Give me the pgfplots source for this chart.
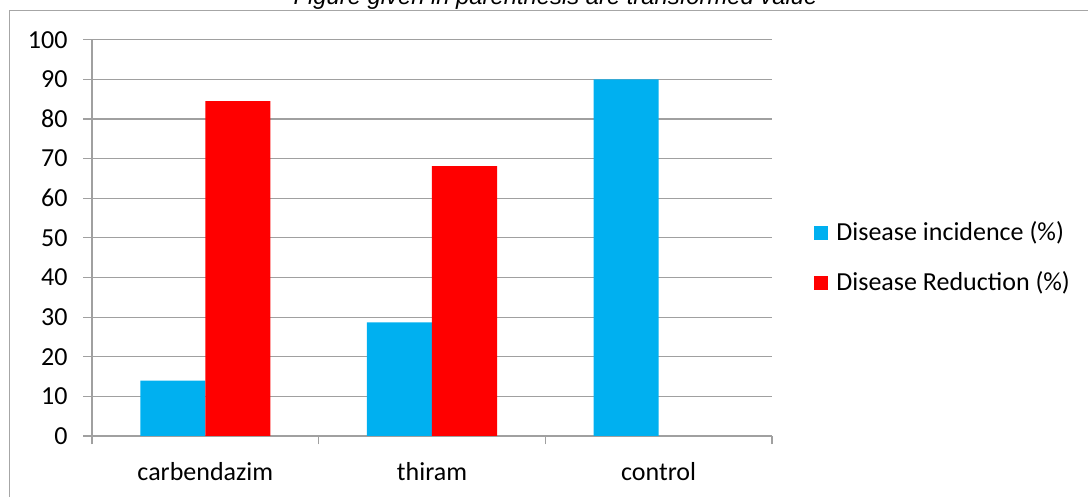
\documentclass[border=0pt]{standalone}
\usepackage{pgfplots}
\pgfplotsset{compat=1.18}
\usepackage{fontspec}
\setmainfont{Carlito}
\newfontfamily\titlefont{Liberation Sans}
\definecolor{incid}{HTML}{00B0F0}
\definecolor{reduc}{HTML}{FF0000}
\definecolor{gridc}{HTML}{A0A0A0}
\definecolor{framec}{HTML}{A6A6A6}
\begin{document}
\fontsize{13}{15.6}\selectfont
\begin{tikzpicture}
\useasboundingbox (-46pt,-30.5pt) rectangle (498pt,218pt);
\begin{scope}
\clip (-46pt,-30.5pt) rectangle (498pt,218pt);
\draw[framec, line width=0.6pt] (-41.25pt,-50pt) -- (-41.25pt,212.65pt) -- (520pt,212.65pt);
\node[anchor=base, inner sep=0pt, font=\titlefont\itshape\fontsize{11.9}{14}\selectfont] at (231.75pt,215.5pt) {Figure given in parenthesis are transformed value};
\end{scope}
\begin{axis}[
  scale only axis, width=340pt, height=198.15pt,
  xmin=-0.5, xmax=2.5, ymin=0, ymax=100,
  ytick={0,10,...,100},
  xtick={-0.5,0.5,1.5,2.5}, xticklabels={,,,},
  extra x ticks={0,1,2},
  extra x tick labels={carbendazim,thiram,control},
  extra x tick style={major tick length=0pt, grid=none, tick label style={anchor=base, yshift=-22.5pt}},
  axis x line*=bottom, axis y line*=left,
  axis line style={gridc, line width=0.6pt, -},
  tick align=outside, major tick length=4.25pt,
  tick style={gridc, line width=0.6pt},
  ymajorgrids, grid style={gridc, line width=0.6pt},
  /pgf/number format/assume math mode=true,
  yticklabel style={xshift=-3.5pt},
  ybar=0pt, bar width=0.287,
  legend style={draw=none, fill=none, at={(1.0618,0.449)}, anchor=west,
    row sep=13.5pt, inner sep=0pt, nodes={inner xsep=4pt, inner ysep=0pt}},
  legend cell align=left,
  legend image code/.code={\fill[#1] (0pt,-3.5pt) rectangle (7pt,3.5pt);},
]
\addplot[fill=incid, draw=none, bar shift=-0.1435] coordinates {(0,14) (1,28.7) (2,90)};
\addplot[fill=reduc, draw=none, bar shift=0.1435] coordinates {(0,84.5) (1,68.1)};
\legend{Disease incidence (\%), Disease Reduction (\%)}
\end{axis}
\end{tikzpicture}
\end{document}
